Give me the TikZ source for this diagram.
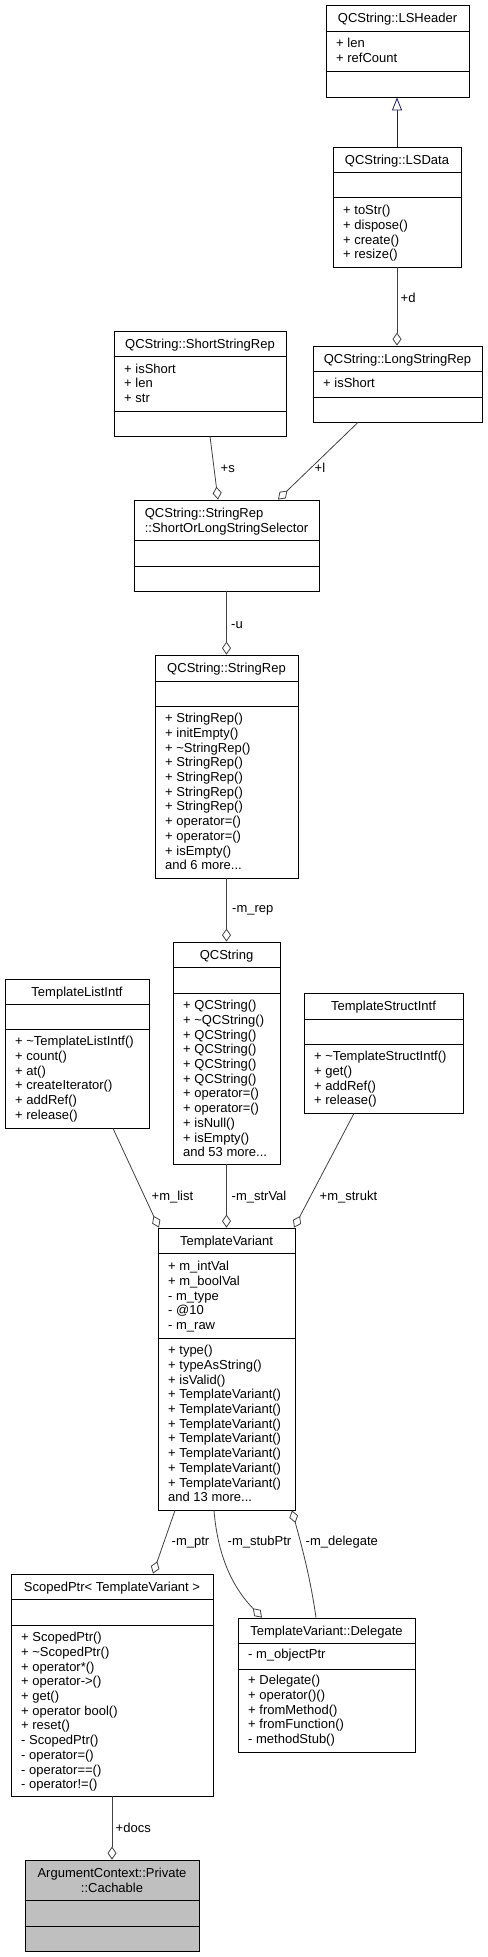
\documentclass[tikz,border=0pt]{standalone}
\usepackage{fontspec}
\setmainfont{Liberation Sans}
\usetikzlibrary{arrows.meta,fit}
\setlength{\lineskiplimit}{-20pt}
\definecolor{edgegray}{HTML}{404040}
\definecolor{midblue}{HTML}{191970}
\definecolor{cachgray}{HTML}{BFBFBF}
\tikzset{
  cbox/.style={draw=black, line width=0.8bp, inner sep=0pt, fill=white},
  cline/.style={draw=black, line width=0.8bp},
  ctext/.style={inner sep=0pt, font={\fontsize{13.05}{14.75}\selectfont}},
  lbl/.style={inner sep=0pt, anchor=base west, font={\fontsize{13.05}{14.75}\selectfont}},
  agg/.style={draw=edgegray, line width=0.8bp, -{Diamond[fill=white, length=13bp, width=9bp]}},
  inh/.style={draw=midblue, line width=0.8bp, -{Triangle[fill=white, length=13bp, width=10bp]}}
}
% #1 options, #2 name, #3 x1, #4 y1, #5 x2, #6 y2, #7 s1, #8 s2
\newcommand\umlbox[8][]{%
  \node[cbox,#1,fit={(#3,#4) (#5,#6)}] (#2) {};
  \draw[cline] (#2.west |- 0,#7) -- (#2.east |- 0,#7);
  \draw[cline] (#2.west |- 0,#8) -- (#2.east |- 0,#8);
}
% #1 name, #2 x, #3 centre of first line, #4 lines
\newcommand\umltext[4]{%
  \node[ctext, anchor=north west, align=left] (#1) at (#2,{#3-5.73}) {\strut #4};
}
% #1 name, #2 cx, #3 cy, #4 title
\newcommand\umltitle[4]{%
  \node[ctext, anchor=base] (#1) at (#2,{#3+4.6}) {#4};
}
\begin{document}
\begin{tikzpicture}[x=1bp,y=-1bp]
\useasboundingbox (0,0) rectangle (488,1957);

% QCString::LSHeader
\umlbox{lsh}{326}{5}{469}{97}{31}{71}
\umltitle{lsh-t}{397.5}{18}{QCString::LSHeader}
\umltext{lsh-a}{336}{42.7}{+ len\\+ refCount}

% QCString::LSData
\umlbox{lsd}{333}{147}{461}{267}{172}{197}
\umltitle{lsd-t}{397}{159.5}{QCString::LSData}
\umltext{lsd-m}{343}{210}{+ toStr()\\+ dispose()\\+ create()\\+ resize()}

% QCString::LongStringRep
\umlbox{lsr}{313}{346}{482}{422}{371}{397}
\umltitle{lsr-t}{397.5}{358.5}{QCString::LongStringRep}
\umltext{lsr-a}{323}{382.5}{+ isShort}

% QCString::ShortStringRep
\umlbox{ssr}{114}{331}{286}{436}{356}{411}
\umltitle{ssr-t}{200}{343.5}{QCString::ShortStringRep}
\umltext{ssr-a}{124}{368.3}{+ isShort\\+ len\\+ str}

% Selector
\umlbox{sel}{134}{500}{319}{591}{540}{566}
\node[ctext, anchor=north, align=left] (sel-t) at (226.5,{513-5.73}) {\strut QCString::StringRep\\::ShortOrLongStringSelector};

% QCString::StringRep
\umlbox{srep}{155}{655}{298}{878}{681}{706}
\umltitle{srep-t}{226.5}{668}{QCString::StringRep}
\umltext{srep-m}{165}{718}{+ StringRep()\\+ initEmpty()\\+ \textasciitilde StringRep()\\+ StringRep()\\+ StringRep()\\+ StringRep()\\+ StringRep()\\+ operator=()\\+ operator=()\\+ isEmpty()\\and 6 more...}

% QCString
\umlbox{qcs}{173}{942}{280}{1164}{967}{993}
\umltitle{qcs-t}{226.5}{954.5}{QCString}
\umltext{qcs-m}{183}{1005}{+ QCString()\\+ \textasciitilde QCString()\\+ QCString()\\+ QCString()\\+ QCString()\\+ QCString()\\+ operator=()\\+ operator=()\\+ isNull()\\+ isEmpty()\\and 53 more...}

% TemplateListIntf
\umlbox{tli}{5}{979}{149}{1128}{1004}{1029}
\umltitle{tli-t}{77}{991.5}{TemplateListIntf}
\umltext{tli-m}{15}{1041}{+ \textasciitilde TemplateListIntf()\\+ count()\\+ at()\\+ createIterator()\\+ addRef()\\+ release()}

% TemplateStructIntf
\umlbox{tsi}{304}{993}{463}{1113}{1019}{1044}
\umltitle{tsi-t}{383.5}{1006}{TemplateStructIntf}
\umltext{tsi-m}{314}{1056}{+ \textasciitilde TemplateStructIntf()\\+ get()\\+ addRef()\\+ release()}

% TemplateVariant
\umlbox{tv}{158}{1228}{295}{1510}{1253}{1338}
\umltitle{tv-t}{226.5}{1240.5}{TemplateVariant}
\umltext{tv-a}{168}{1266}{+ m\_intVal\\+ m\_boolVal\\- m\_type\\- @10\\- m\_raw}
\umltext{tv-m}{168}{1350}{+ type()\\+ typeAsString()\\+ isValid()\\+ TemplateVariant()\\+ TemplateVariant()\\+ TemplateVariant()\\+ TemplateVariant()\\+ TemplateVariant()\\+ TemplateVariant()\\+ TemplateVariant()\\and 13 more...}

% ScopedPtr< TemplateVariant >
\umlbox{sp}{11}{1574}{213}{1796}{1599}{1625}
\umltitle{sp-t}{112}{1586.5}{ScopedPtr< TemplateVariant >}
\umltext{sp-m}{21}{1637}{+ ScopedPtr()\\+ \textasciitilde ScopedPtr()\\+ operator*()\\+ operator->()\\+ get()\\+ operator bool()\\+ reset()\\- ScopedPtr()\\- operator=()\\- operator==()\\- operator!=()}

% TemplateVariant::Delegate
\umlbox{del}{238}{1618}{415}{1752}{1643}{1669}
\umltitle{del-t}{326.5}{1630.5}{TemplateVariant::Delegate}
\umltext{del-a}{248}{1654}{- m\_objectPtr}
\umltext{del-m}{248}{1680}{+ Delegate()\\+ operator()()\\+ fromMethod()\\+ fromFunction()\\- methodStub()}

% ArgumentContext::Private::Cachable
\umlbox[fill=cachgray]{cach}{25}{1860}{199}{1951}{1900}{1926}
\node[ctext, anchor=north, align=center] (cach-t) at (112,{1872.6-5.73}) {\strut ArgumentContext::Private\\::Cachable};

% connectors
\draw[inh] (lsd.north) -- (lsh.south -| lsd.north);
\draw[agg] (lsd.south) -- (lsr.north -| lsd.south);
\draw[agg] (ssr.south -| 210,0) -- (sel.north -| 218,0);
\draw[agg] (lsr.south -| 358,0) -- (sel.north -| 278,0);
\draw[agg] (sel.south) -- (srep.north);
\draw[agg] (srep.south) -- (qcs.north);
\draw[agg] (tli.south -| 113,0) -- (tv.north -| 159,0);
\draw[agg] (qcs.south) -- (tv.north);
\draw[agg] (tsi.south -| 354,0) -- (tv.north -| 294,0);
\draw[agg] (tv.south -| 175,0) -- (sp.north -| 153,0);
\draw[agg] (tv.south -| 214,0) .. controls (218,1560) and (235,1590) .. (del.north -| 262,0);
\draw[agg] (del.north -| 316,0) .. controls (310,1575) and (300,1540) .. (tv.south -| 292,0);
\draw[agg] (sp.south) -- (cach.north);

% connector labels
\node[lbl] (l-d) at (400.5,302.6) {+d};
\node[lbl] (l-s) at (220.5,472.6) {+s};
\node[lbl] (l-l) at (314.5,472.6) {+l};
\node[lbl] (l-u) at (231,628.6) {-u};
\node[lbl] (l-rep) at (232,912.6) {-m\_rep};
\node[lbl] (l-list) at (151.5,1200.3) {+m\_list};
\node[lbl] (l-strval) at (231.5,1200.3) {-m\_strVal};
\node[lbl] (l-strukt) at (319.5,1200.3) {+m\_strukt};
\node[lbl] (l-ptr) at (171.5,1545.3) {-m\_ptr};
\node[lbl] (l-stub) at (227.5,1545.3) {-m\_stubPtr};
\node[lbl] (l-deleg) at (305.5,1545.3) {-m\_delegate};
\node[lbl] (l-docs) at (115.5,1832.6) {+docs};
\end{tikzpicture}
\end{document}
